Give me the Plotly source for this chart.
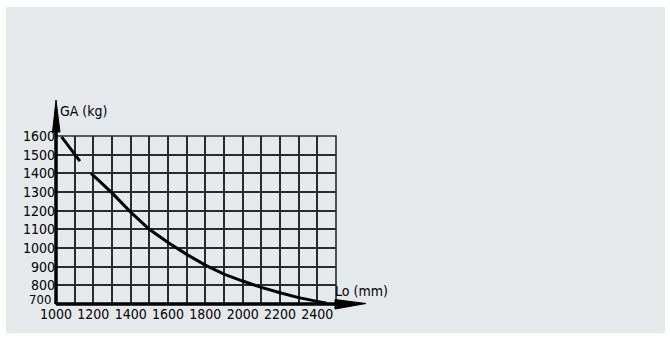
import plotly.graph_objects as go

# Data
lo_mm = [1030, 1128, None, 1188, 1300, 1400, 1500, 1600, 1700, 1800, 1900, 2000, 2100, 2200, 2300, 2400, 2450]
ga_kg = [1595, 1465, None, 1400, 1295, 1192, 1100, 1030, 966, 908, 860, 823, 789, 760, 734, 714, 704]

x_ticks = list(range(1000, 2501, 100))
x_ticktext = [str(v) if (v % 200 == 0 and v < 2500) else "" for v in x_ticks]
y_ticks = list(range(700, 1601, 100))
y_ticktext = [str(v) for v in y_ticks]

x_title = "Lo (mm)"
y_title = "GA (kg)"

FONT = "DejaVu Sans Condensed, Liberation Sans Narrow, Arial Narrow, sans-serif"
GRID = "#2b2b2b"

fig = go.Figure()
fig.add_trace(go.Scatter(x=lo_mm, y=ga_kg, mode="lines", connectgaps=False,
                         line=dict(color="black", width=3), hoverinfo="skip"))

L, R, T, B = 56, 334, 136, 34
W, H = 670, 338
pw, ph = W - L - R, H - T - B

def px(xp):
    return (xp - L) / pw

def py(yp):
    return (H - B - yp) / ph

shapes = [
    # grey background panel
    dict(type="rect", xref="paper", yref="paper", x0=px(6), x1=px(665), y0=py(333), y1=py(7),
         fillcolor="#e6e9ec", line=dict(width=0), layer="below"),
    # plot border (top/right)
    dict(type="rect", xref="paper", yref="paper", x0=0, x1=1, y0=0, y1=1,
         line=dict(color=GRID, width=1.6), layer="above"),
    # y axis line
    dict(type="line", xref="paper", yref="paper", x0=0, x1=0, y0=0, y1=py(128),
         line=dict(color="black", width=3.5)),
    # x axis line
    dict(type="line", xref="paper", yref="paper", x0=0, x1=px(338), y0=0, y1=0,
         line=dict(color="black", width=3.5)),
    # y arrow head
    dict(type="path", xref="paper", yref="paper",
         path=f"M {px(52.5)} {py(132)} L {px(56)} {py(100)} L {px(60)} {py(132)} Z",
         fillcolor="black", line=dict(color="black", width=1)),
    # x arrow head
    dict(type="path", xref="paper", yref="paper",
         path=f"M {px(335)} {py(299.5)} L {px(366)} {py(303.5)} L {px(335)} {py(309)} Z",
         fillcolor="black", line=dict(color="black", width=1)),
]

annotations = [
    dict(text=y_title, xref="paper", yref="paper", x=px(58), y=py(111), xanchor="left",
         yanchor="middle", showarrow=False, font=dict(family=FONT, size=14, color="black")),
    dict(text=x_title, xref="paper", yref="paper", x=px(333), y=py(291), xanchor="left",
         yanchor="middle", showarrow=False, font=dict(family=FONT, size=14, color="black")),
    # lowest y tick label, raised above the x axis as in the reference
    dict(text=y_ticktext[0], xref="paper", yref="paper", x=px(53), y=py(299.5), xanchor="right",
         yanchor="middle", showarrow=False, font=dict(family=FONT, size=13, color="black")),
]

axis_y_text = [""] + y_ticktext[1:]

fig.update_layout(
    width=W, height=H,
    margin=dict(l=L, r=R, t=T, b=B, pad=0),
    paper_bgcolor="white",
    plot_bgcolor="rgba(0,0,0,0)",
    showlegend=False,
    shapes=shapes,
    annotations=annotations,
    font=dict(family=FONT, size=14, color="black"),
    xaxis=dict(range=[1000, 2500], tickvals=x_ticks, ticktext=x_ticktext,
               showgrid=True, gridcolor=GRID, gridwidth=1.6, zeroline=False,
               showline=False, ticks="", ticklen=0, tickfont=dict(family=FONT, size=14)),
    yaxis=dict(range=[700, 1600], tickvals=y_ticks, ticktext=axis_y_text,
               showgrid=True, gridcolor=GRID, gridwidth=1.6, zeroline=False,
               showline=False, ticks="", ticklen=0, tickfont=dict(family=FONT, size=14)),
)

fig.write_html("out.html", config={"displayModeBar": False},
               post_script="document.body.style.margin='0';")
